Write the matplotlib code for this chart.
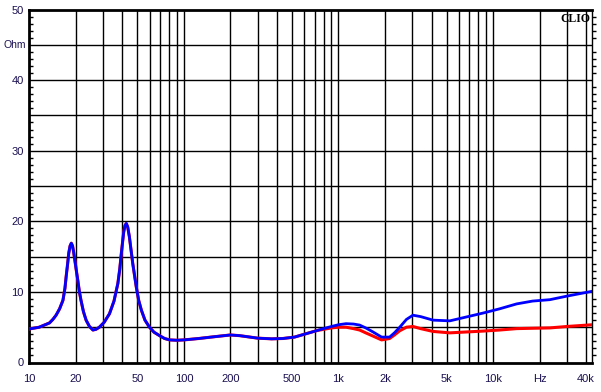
import matplotlib
matplotlib.use("Agg")
import matplotlib.pyplot as plt
from matplotlib.ticker import FixedLocator, NullFormatter

# Data (frequency Hz, impedance Ohm) -- common low-frequency part
freq_low = [10, 11.6, 12.5, 13.5, 14.2, 14.9, 15.7, 16.5, 17.0, 17.3, 17.7, 18.0, 18.35,
            18.7, 19.05, 19.4, 20.0, 20.6, 21.1, 21.6, 22.4, 23.3, 24.5, 25.8, 27.0,
            28.4, 30.5, 33.0, 35.3, 37.4, 38.5, 39.4, 40.8, 41.6, 42.4, 43.3, 44.4,
            46.7, 49.2, 51.0, 53.1, 56.0, 59.9, 64.0, 69.6, 75.0, 80.9, 90.0, 100,
            125, 150, 200, 230, 300, 370, 437, 520, 600]
z_low = [4.75, 5.0, 5.3, 5.6, 6.1, 6.7, 7.6, 8.8, 10.5, 12.1, 14.0, 15.5, 16.5,
         16.9, 16.5, 15.5, 13.5, 11.6, 10.0, 8.8, 7.2, 6.0, 5.1, 4.6, 4.7,
         5.0, 5.7, 6.9, 8.7, 11.2, 13.3, 15.5, 18.5, 19.4, 19.7, 19.2, 17.8,
         14.0, 10.7, 8.8, 7.4, 6.0, 5.0, 4.3, 3.8, 3.4, 3.2, 3.15, 3.2,
         3.4, 3.6, 3.9, 3.8, 3.45, 3.35, 3.4, 3.6, 4.0]

# high-frequency part, where the two curves separate
freq_hi = [719, 800, 900, 1000, 1120, 1250, 1370, 1500, 1650, 1900, 2140, 2300, 2490,
           2750, 3030, 3400, 4090, 5250, 8600, 11000, 14200, 18000, 23300, 30000, 44000]
z_hi_blue = [4.5, 4.8, 5.1, 5.35, 5.5, 5.45, 5.3, 4.9, 4.4, 3.6, 3.6, 4.2, 5.0,
             6.1, 6.7, 6.5, 6.0, 5.9, 7.0, 7.6, 8.3, 8.7, 8.9, 9.4, 10.1]
z_hi_red = [4.5, 4.7, 4.9, 5.0, 5.0, 4.8, 4.6, 4.2, 3.8, 3.2, 3.4, 3.9, 4.5,
            5.0, 5.1, 4.8, 4.4, 4.2, 4.45, 4.6, 4.8, 4.85, 4.9, 5.1, 5.35]

x_tick_vals = [10, 20, 50, 100, 200, 500, 1000, 2000, 5000, 10000, 20000, 40000]
x_tick_labels = ["10", "20", "50", "100", "200", "500", "1k", "2k", "5k", "10k", "Hz", "40k"]
y_tick_vals = [0, 10, 20, 30, 40, 50]

plt.rcParams['font.family'] = ['Liberation Sans', 'DejaVu Sans']
label_color = '#1a1050'

fig = plt.figure(figsize=(6.01, 3.92), dpi=100)
ax = fig.add_axes([29.3/601, 29.5/392, 562.2/601, 353/392])
ax.set_xscale('log')
ax.set_xlim(10, 43300)
ax.set_ylim(0, 50)

# grid
grid_x = []
for dec in [10, 100, 1000, 10000]:
    for m in range(1, 10):
        v = dec * m
        if 10 < v <= 40000:
            grid_x.append(v)
for v in grid_x:
    ax.axvline(v, color='black', lw=1.0, zorder=1)
for v in range(5, 50, 5):
    ax.axhline(v, color='black', lw=1.0, zorder=1)

red_f = freq_low + freq_hi
red_z = z_low + z_hi_red
blue_f = freq_low + freq_hi
blue_z = z_low + z_hi_blue
ax.plot(red_f, red_z, color='#ff0000', lw=2.2, zorder=3, solid_joinstyle='round')
ax.plot(blue_f, blue_z, color='#0000ff', lw=2.0, zorder=4, solid_joinstyle='round')

ax.xaxis.set_major_locator(FixedLocator(x_tick_vals))
ax.set_xticklabels(x_tick_labels)
ax.xaxis.set_minor_locator(FixedLocator([]))
ax.xaxis.set_minor_formatter(NullFormatter())
ax.tick_params(axis='x', which='both', length=0, pad=8, labelsize=8, colors=label_color)

ax.set_yticks(y_tick_vals)
ax.set_yticks([v for v in range(1, 50) if v % 5 != 0], minor=True)
ax.tick_params(axis='y', which='major', length=0, pad=4, labelsize=8, colors=label_color)
ax.tick_params(axis='y', which='minor', length=3, width=1, color='black', direction='in',
               left=True, right=False)

# right-side outward minor ticks
ax2 = ax.twinx()
ax2.set_ylim(0, 50)
ax2.set_yticks([])
ax2.set_yticks([v for v in range(1, 50) if v % 5 != 0], minor=True)
ax2.tick_params(axis='y', which='minor', length=3, width=1, direction='out', labelright=False)
for s in ax2.spines.values():
    s.set_visible(False)

ax.text(-0.005, 45, "Ohm", transform=ax.get_yaxis_transform(), ha='right', va='center',
        fontsize=7.5, color=label_color)
ax.text(0.9985, 0.99, "CLIO", transform=ax.transAxes, ha='right', va='top',
        fontsize=8.5, fontweight='bold', family='Liberation Serif', color='black')

for s in ['left', 'bottom', 'top']:
    ax.spines[s].set_linewidth(2.0)
ax.spines['right'].set_linewidth(1.0)

fig.savefig('out.png', dpi=100)
